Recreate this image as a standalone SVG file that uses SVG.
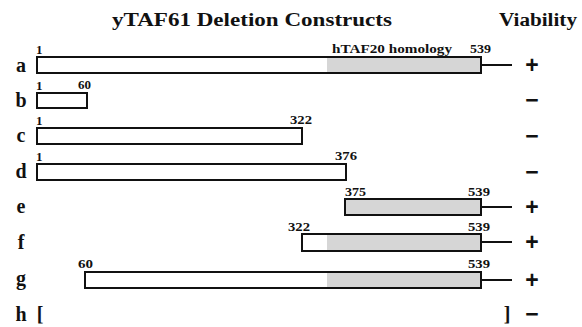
<svg xmlns="http://www.w3.org/2000/svg" width="582" height="327" viewBox="0 0 582 327">
<style>
.bg{fill:#ffffff}
.bar{fill:#ffffff;stroke:#111;stroke-width:2}
.gray{fill:#d6d6d6}
.frame{fill:none;stroke:#111;stroke-width:2}
.tail{stroke:#111;stroke-width:2}
.title{font-family:"Liberation Serif",serif;font-weight:bold;font-size:18px;fill:#111}
.row{font-family:"Liberation Serif",serif;font-weight:bold;font-size:20px;fill:#111;text-anchor:middle}
.num{font-family:"Liberation Serif",serif;font-weight:bold;font-size:13px;fill:#111}
.sign{font-family:"Liberation Sans",sans-serif;font-weight:bold;font-size:23px;fill:#111;text-anchor:middle}
</style>
<rect class="bg" x="0" y="0" width="582" height="327"/>
<g id="header">
<text class="title" x="112" y="26" textLength="280" lengthAdjust="spacingAndGlyphs">yTAF61 Deletion Constructs</text>
<text class="title" x="499" y="26" textLength="78" lengthAdjust="spacingAndGlyphs">Viability</text>
</g>
<g id="connectors">
<line class="tail" x1="481" y1="65" x2="512" y2="65"/>
<line class="tail" x1="481" y1="207" x2="512" y2="207"/>
<line class="tail" x1="481" y1="242" x2="512" y2="242"/>
<line class="tail" x1="481" y1="280" x2="512" y2="280"/>
</g>
<g id="construct-a">
<text class="row" x="21" y="72">a</text>
<rect class="bar" x="37" y="57" width="444" height="16"/>
<rect class="gray" x="327" y="58" width="153" height="14"/>
<rect class="frame" x="37" y="57" width="444" height="16"/>
<text class="num" x="36" y="54">1</text>
<text class="num" x="332" y="53" textLength="120" lengthAdjust="spacingAndGlyphs">hTAF20 homology</text>
<text class="num" x="470" y="53" textLength="21" lengthAdjust="spacingAndGlyphs">539</text>
<text class="sign" x="532" y="73">+</text>
</g>
<g id="construct-b">
<text class="row" x="21" y="107">b</text>
<rect class="bar" x="37" y="93" width="50" height="15"/>
<text class="num" x="36" y="90">1</text>
<text class="num" x="78" y="89" textLength="13" lengthAdjust="spacingAndGlyphs">60</text>
<text class="sign" x="532" y="108">−</text>
</g>
<g id="construct-c">
<text class="row" x="21" y="142">c</text>
<rect class="bar" x="37" y="128" width="265" height="16"/>
<text class="num" x="36" y="125">1</text>
<text class="num" x="290" y="124" textLength="22" lengthAdjust="spacingAndGlyphs">322</text>
<text class="sign" x="532" y="144">−</text>
</g>
<g id="construct-d">
<text class="row" x="21" y="178">d</text>
<rect class="bar" x="37" y="164" width="309" height="16"/>
<text class="num" x="36" y="161">1</text>
<text class="num" x="335" y="160" textLength="22" lengthAdjust="spacingAndGlyphs">376</text>
<text class="sign" x="532" y="180">−</text>
</g>
<g id="construct-e">
<text class="row" x="21" y="213">e</text>
<rect class="bar" x="345" y="199" width="136" height="16" style="fill:#d6d6d6"/>
<text class="num" x="345" y="196" textLength="21" lengthAdjust="spacingAndGlyphs">375</text>
<text class="num" x="468" y="196" textLength="22" lengthAdjust="spacingAndGlyphs">539</text>
<text class="sign" x="532" y="215">+</text>
</g>
<g id="construct-f">
<text class="row" x="21" y="249">f</text>
<rect class="bar" x="302" y="234" width="179" height="17"/>
<rect class="gray" x="327" y="235" width="153" height="15"/>
<rect class="frame" x="302" y="234" width="179" height="17"/>
<text class="num" x="288" y="231" textLength="22" lengthAdjust="spacingAndGlyphs">322</text>
<text class="num" x="468" y="231" textLength="22" lengthAdjust="spacingAndGlyphs">539</text>
<text class="sign" x="532" y="250">+</text>
</g>
<g id="construct-g">
<text class="row" x="21" y="285">g</text>
<rect class="bar" x="85" y="272" width="396" height="16"/>
<rect class="gray" x="327" y="273" width="153" height="14"/>
<rect class="frame" x="85" y="272" width="396" height="16"/>
<text class="num" x="78" y="268" textLength="15" lengthAdjust="spacingAndGlyphs">60</text>
<text class="num" x="468" y="268" textLength="22" lengthAdjust="spacingAndGlyphs">539</text>
<text class="sign" x="532" y="288">+</text>
</g>
<g id="construct-h">
<text class="row" x="21" y="321">h</text>
<text class="row" x="40" y="321">[</text>
<text class="row" x="507" y="321">]</text>
<text class="sign" x="532" y="322">−</text>
</g>
</svg>
